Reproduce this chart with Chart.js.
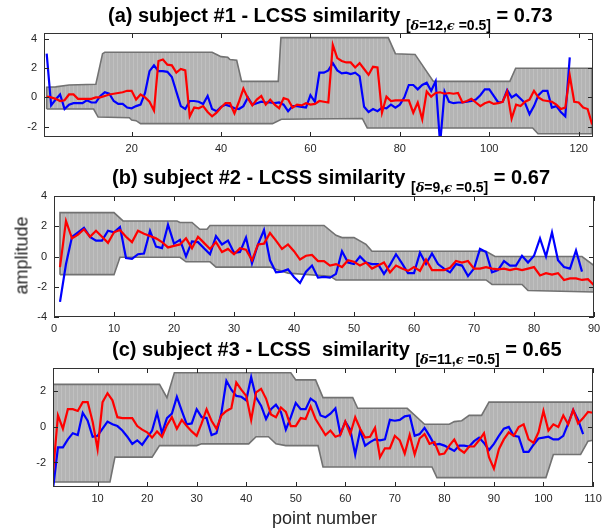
<!DOCTYPE html>
<html>
<head>
<meta charset="utf-8">
<script src="https://cdn.jsdelivr.net/npm/chart.js@4.4.1/dist/chart.umd.min.js"></script>
<style>
  body { margin: 0; background: #fff; width: 607px; height: 529px; overflow: hidden; position: relative; font-family: "Liberation Sans", Arial, sans-serif; }
  canvas { position: absolute; left: 0; }
  .ttl { position: absolute; font-weight: bold; font-size: 20px; color: #000; white-space: nowrap; }
  .ttl .sb { font-size: 14px; position: relative; top: 8px; }
  .ttl i { font-family: "DejaVu Serif", serif; font-size: 13px; }
  .lbl { position: absolute; font-size: 18px; color: #262626; white-space: nowrap; }
</style>
</head>
<body>
<canvas id="chartA" width="607" height="160" style="top:0px"></canvas>
<canvas id="chartB" width="607" height="175" style="top:160px"></canvas>
<canvas id="chartC" width="607" height="194" style="top:335px"></canvas>

<div class="ttl" style="left:108px; top:4px">(a) subject #1 - LCSS similarity <span class="sb">[<i>δ</i>=12,<i>ϵ</i> =0.5]</span> = 0.73</div>
<div class="ttl" style="left:112px; top:166px">(b) subject #2 - LCSS similarity <span class="sb">[<i>δ</i>=9,<i>ϵ</i> =0.5]</span> = 0.67</div>
<div class="ttl" style="left:112px; top:338px">(c) subject #3 - LCSS&nbsp; similarity <span class="sb">[<i>δ</i>=11,<i>ϵ</i> =0.5]</span> = 0.65</div>
<div class="lbl" style="left:-20px; top:245px; transform: rotate(-90deg); transform-origin: 50% 50%; width:84px; text-align:center">amplitude</div>
<div class="lbl" style="left:272px; top:508px; width:100px; text-align:center">point number</div>

<script>
// subject #1
const redA = [0.05, 0.0, -0.1, -0.25, -0.2, 0.2, 0.2, -0.1, -0.1, -0.1,
  -0.1, 0.0, 0.0, 0.1, 0.2, 0.25, 0.3, 0.35, 0.45, 0.45,
  -0.15, 0.2, 0.0, -0.3, -0.9, 2.5, 2.6, 2.25, 2.2, 1.7,
  1.95, 1.85, -1.3, -0.7, -0.75, -0.6, -1.0, -1.3, -1.05, -0.7,
  -0.4, -0.4, -1.1, -0.3, 0.6, -0.05, -0.55, -0.15, 0.1, -0.5,
  -0.15, -0.5, -0.75, -0.05, -0.15, -0.7, -0.5, -0.55, -0.4, -0.5,
  -0.45, -0.25, -0.3, -0.35, 3.6, 2.7, 2.5, 2.4, 2.4, 2.05,
  2.35, 1.95, 1.55, 2.1, 2.05, -1.05, 0.05, -0.25, -0.2, -0.2,
  -0.2, -0.2, -1.05, -0.35, -1.5, 0.4, 0.05, 0.3, 0.35, 0.25,
  0.3, 0.25, 0.3, -0.35, -0.25, -0.1, -0.35, -0.6, -0.4, -0.3,
  -0.45, -0.4, -0.3, 0.4, -1.45, -0.5, -0.6, -0.3, -0.15, 0.45,
  0.0, -0.2, -0.25, -0.3, -0.5, -0.8, -0.7, 1.5, -0.3, -0.35,
  -0.7, -0.8, -1.85];
const blueA = [3.0, -0.55, -0.15, 0.2, -0.8, -0.5, -0.4, -0.4, -0.4, -0.2,
  -0.35, -0.35, 0.1, 0.35, 0.25, -0.25, -0.45, -0.45, -0.7, -0.75,
  -0.6, -0.5, 0.3, 1.8, 2.2, 1.8, 1.8, 1.75, 1.4, 0.4,
  -0.6, -0.8, -0.25, -0.25, -0.3, -0.45, 0.1, -0.8, -0.95, -0.65,
  -0.5, -0.6, -0.75, -0.8, -0.6, 0.0, -0.5, -0.4, -0.3, -0.35,
  -0.35, -0.4, -0.35, -0.5, -0.95, -0.6, -0.6, -0.65, -0.7, 0.15,
  -0.3, 1.7, 1.7, 1.85, 2.35, 1.85, 1.65, 1.7, 1.6, 1.7,
  1.45, -0.65, -1.0, -0.8, -0.95, -0.7, -0.75, -0.5, -0.7, -0.5,
  0.0, 0.85, 0.85, 0.55, 0.85, 1.0, 0.45, 1.1, -3.2, 0.4,
  -0.3, -0.4, -0.35, -0.35, -0.3, -0.25, -0.15, 0.15, 0.55, 0.55,
  0.1, -0.35, -0.3, 0.5, 0.0, 0.2, -0.1, -0.4, -1.15, -0.6,
  0.15, 0.45, 0.45, -0.7, -0.6, -1.0, -1.3, 2.75];
const bandUpA = [[1, 0.7], [3, 0.72], [6, 0.85], [12, 0.9], [13.5, 3.0], [14, 3.1], [38, 3.1], [39, 2.95],
  [40, 2.8], [41.5, 2.75], [42, 2.6], [43.5, 2.55], [44.6, 1.1], [52.8, 1.1], [53.4, 4.1], [77.4, 4.1],
  [79, 3.0], [83.4, 2.95], [87.5, 1.1], [104.6, 1.1], [105.9, 2.0], [123, 2.0]];
const bandLoA = [[1, -0.8], [11.5, -0.8], [12.5, -1.35], [19.5, -1.4], [20, -1.55], [21, -1.6], [22, -1.8],
  [51.5, -1.8], [53.5, -1.5], [71.6, -1.45], [72.7, -2.1], [109.7, -2.1], [110.9, -2.5], [123, -2.5]];
const xTicksA = [20, 40, 60, 80, 100, 120];
const yTicksA = [-2, 0, 2, 4];

// subject #2
const redB = [-0.7, 2.35, 1.2, 1.45, 1.8, 1.3, 1.7, 1.3, 0.9, 1.6,
  1.75, 1.3, 0.95, 1.7, 1.5, 1.35, 1.2, 0.95, 0.6, 0.7,
  0.8, 1.2, 0.55, 1.3, 0.9, 0.5, 0.95, 0.3, 0.5, 0.15,
  0.55, 0.45, -0.25, 0.8, 0.85, 1.55, 1.05, 0.5, 0.8, 0.35,
  -0.2, 0.05, 0.1, -0.3, -0.3, -0.6, -0.5, -0.7, -0.25, -0.35,
  -0.6, -0.4, -0.8, -0.6, -0.4, -1.05, -0.6, -0.8, -0.95, -0.7,
  -0.95, -0.2, -0.9, -0.9, -0.9, -0.75, -0.3, -0.4, -0.3, -0.8,
  -0.8, -0.7, -0.8, -0.85, -0.8, -0.9, -0.8, -0.9, -0.8, -0.7,
  -1.25, -1.1, -1.2, -1.1, -1.55, -1.45, -1.45, -1.55, -1.5, -1.9];
const blueB = [-3.0, -0.5, 1.3, 1.6, 1.9, 1.3, 1.05, 1.05, 1.7, 1.6,
  1.95, -0.1, -0.15, 0.15, 0.2, 1.7, 0.65, 0.55, 2.1, 0.85,
  1.1, 0.0, 1.0, 0.95, 0.55, 0.15, 1.35, 0.8, 1.05, 0.25,
  0.3, 1.25, -0.45, 0.8, 1.75, -0.25, -1.05, -1.0, -0.85, -1.35,
  -1.75, -1.0, -0.6, -1.4, -1.35, -1.4, -1.15, 0.35, -0.4, -0.5,
  0.0, -0.4, -0.5, -0.5, -1.15, -0.55, 0.15, -0.45, -1.1, -1.1,
  0.25, -0.5, 0.2, -0.5, -0.8, -1.05, -0.5, -0.6, -1.3, -0.8,
  0.5, 0.3, -1.05, -0.9, -0.3, -0.6, -0.6, 0.05, -0.4, 0.05,
  1.2, 0.0, 1.6, -0.25, -0.7, -0.8, 0.4, -1.0];
const bandUpB = [[1, 2.9], [10, 2.9], [11.5, 2.35], [20.5, 2.35], [21, 2.25], [23, 2.25], [24.3, 1.8],
  [25.5, 1.8], [26, 2.05], [45, 2.05], [47, 1.4], [48, 1.25], [50, 1.25], [52, 0.8], [53, 0.35],
  [72, 0.35], [73.5, 0.0], [88, 0.0], [90, -0.6]];
const bandLoB = [[1, -1.2], [10, -1.2], [11, -0.05], [21, -0.05], [22, -0.35], [26, -0.35], [27, -0.7],
  [36, -0.7], [37, -0.85], [39, -1.1], [46, -1.3], [47, -1.55], [72, -1.55], [73, -1.85], [78, -1.85],
  [79, -2.25], [90, -2.35]];
const xTicksB = [0, 10, 20, 30, 40, 50, 60, 70, 80, 90];
const yTicksB = [-4, -2, 0, 2, 4];

// subject #3
const redC = [-2.6, 0.65, -0.1, 1.0, 1.0, 0.9, 1.4, 1.4, 0.3, -1.25,
  1.4, 1.9, 1.5, 0.55, 0.5, 0.5, 0.5, 0.05, -0.15, -0.3,
  -0.6, -0.25, -0.55, 0.1, 0.55, -0.1, 0.4, 0.05, -0.25, -0.5,
  0.2, 1.0, 0.35, -0.1, 0.65, 0.9, 1.05, 2.5, 2.1, 1.75,
  0.4, 1.95, 2.15, 1.6, 0.7, 0.55, 1.1, 0.85, 0.05, 0.05,
  0.5, 0.45, 1.15, 0.45, 0.0, -0.45, -0.2, -0.55, -0.45, 0.3,
  -0.4, 0.55, -0.1, -0.6, -0.55, -0.05, -1.7, -1.2, -1.2, -0.5,
  -0.75, -1.5, -0.45, -1.55, -0.65, -0.4, -0.95, -0.85, -1.55, -1.5,
  -1.05, -0.7, -1.25, -1.45, -1.1, -1.1, -0.75, -0.35, -1.7, -2.35,
  -1.25, -0.7, -0.3, -0.5, 0.0, 0.15, -0.7, -0.9, -0.3, 0.9,
  -0.2, 0.15, 0.0, 0.65, 0.15, 0.95, 0.2, 0.5, 0.85, 0.8];
const blueC = [-3.5, -1.15, -1.15, -0.7, -0.35, -0.45, 0.8, 0.35, -0.55, -0.5,
  -0.1, 0.3, 0.15, 0.05, -0.2, -0.55, -0.95, -0.75, -1.0, -0.6,
  -0.2, 0.8, -0.35, 0.5, 0.75, 1.7, 0.9, 0.15, 0.2, 1.0,
  0.55, 0.5, -0.45, -0.35, 0.8, 2.6, 2.1, 1.75, 1.7, 1.5,
  2.8, 1.65, 1.2, 0.45, 1.0, 1.25, 0.85, -0.15, 0.55, 1.35,
  1.0, 1.0, 1.6, 1.4, 0.65, 0.55, 0.75, 1.05, -0.4, 0.3,
  -0.15, -1.55, -0.2, -1.05, -0.85, -0.7, -0.75, -0.7, 0.4, 0.35,
  0.4, 0.6, 0.65, -0.5, -0.4, -0.05, -0.5, -1.0, -0.95, -1.05,
  -1.2, -1.35, -1.05, -1.05, -1.1, -0.8, -0.6, -0.9, -1.3, -0.95,
  -0.5, -0.1, 0.0, -0.5, -0.55, -1.4, -1.4, -1.0, -0.65, -0.6,
  -0.55, -0.7, -0.7, -0.5, 0.2, 0.95, 0.4, -0.4];
const bandUpC = [[1, 2.4], [22.5, 2.4], [24, 1.65], [25.5, 3.05], [49, 3.05], [50, 2.65], [54, 2.65],
  [55.5, 1.65], [61.5, 1.65], [62.5, 1.05], [72.5, 1.05], [76, 0.15], [81, 0.15], [82, 0.3], [83.5, 0.35],
  [85, 0.65], [87.5, 0.65], [89, 1.4], [110, 1.4]];
const bandLoC = [[1, -3.1], [12.5, -3.1], [13.5, -1.7], [21, -1.7], [22.5, -1.05], [30, -1.05], [31, -0.95],
  [40.5, -0.95], [42, -0.55], [44.5, -0.55], [46, -0.95], [48, -1.05], [54.5, -1.05], [55.5, -2.25],
  [77.5, -2.25], [78.5, -2.85], [100.5, -2.85], [102, -1.55], [107.5, -1.55], [109, -0.8], [110, -0.75]];
const xTicksC = [10, 20, 30, 40, 50, 60, 70, 80, 90, 100, 110];
const yTicksC = [-2, 0, 2];

function stripes(ctx) {
  const c = document.createElement('canvas');
  c.width = 4; c.height = 1;
  const g = c.getContext('2d');
  g.fillStyle = '#b4b4b4';
  g.fillRect(0, 0, 4, 1);
  g.fillStyle = '#c0c0c0';
  g.fillRect(1, 0, 1, 1);
  return ctx.createPattern(c, 'repeat');
}

// matlab style box with ticks inside on all four sides
const boxPlugin = {
  id: 'box',
  afterDatasetsDraw(chart) {
    const { ctx, chartArea: a, scales: { x, y } } = chart;
    ctx.save();
    ctx.strokeStyle = '#262626';
    ctx.lineWidth = 1;
    ctx.beginPath();
    x.ticks.forEach(t => {
      const px = Math.round(x.getPixelForValue(t.value)) + 0.5;
      ctx.moveTo(px, a.bottom); ctx.lineTo(px, a.bottom - 5);
      ctx.moveTo(px, a.top); ctx.lineTo(px, a.top + 5);
    });
    y.ticks.forEach(t => {
      const py = Math.round(y.getPixelForValue(t.value)) + 0.5;
      ctx.moveTo(a.left, py); ctx.lineTo(a.left + 5, py);
      ctx.moveTo(a.right, py); ctx.lineTo(a.right - 5, py);
    });
    ctx.stroke();
    ctx.strokeStyle = '#333333';
    ctx.strokeRect(Math.round(a.left) + 0.5, Math.round(a.top) + 0.5,
      Math.round(a.right - a.left) - 1, Math.round(a.bottom - a.top) - 1);
    ctx.restore();
  }
};

function makeChart(id, red, blue, up, lo, xRange, yRange, xTicks, yTicks, yWidth, xHeight, padTop, padRight) {
  const ctx = document.getElementById(id).getContext('2d');
  const pts = arr => arr.map((v, i) => ({ x: i + 1, y: v }));
  const upper = [{ x: up[0][0], y: lo[0][1] }]
    .concat(up.map(p => ({ x: p[0], y: p[1] })))
    .concat([{ x: up[up.length - 1][0], y: lo[lo.length - 1][1] }]);
  const lower = lo.map(p => ({ x: p[0], y: p[1] }));
  const tickFont = { family: 'Liberation Sans', size: 11 };

  return new Chart(ctx, {
    type: 'line',
    data: {
      datasets: [
        { data: pts(red), borderColor: '#ff0000', borderWidth: 2.2, pointRadius: 0, fill: false, order: 0 },
        { data: pts(blue), borderColor: '#0000ff', borderWidth: 2.2, pointRadius: 0, fill: false, order: 1 },
        { data: upper, borderColor: '#727272', borderWidth: 1.6, pointRadius: 0, fill: false, order: 2 },
        { data: lower, borderColor: '#727272', borderWidth: 1.6, pointRadius: 0, fill: 2,
          backgroundColor: stripes(ctx), order: 3 }
      ]
    },
    options: {
      responsive: false,
      animation: false,
      layout: { padding: { top: padTop, right: padRight, left: 0, bottom: 0 } },
      elements: { line: { tension: 0 } },
      plugins: { legend: { display: false }, tooltip: { enabled: false } },
      scales: {
        x: {
          type: 'linear', min: xRange[0], max: xRange[1],
          grid: { display: false, drawTicks: false }, border: { display: false },
          afterBuildTicks: s => { s.ticks = xTicks.map(v => ({ value: v })); },
          afterFit: s => { s.height = xHeight; },
          ticks: { padding: 5, color: '#262626', font: tickFont, maxRotation: 0, autoSkip: false }
        },
        y: {
          type: 'linear', min: yRange[0], max: yRange[1],
          grid: { display: false, drawTicks: false }, border: { display: false },
          afterBuildTicks: s => { s.ticks = yTicks.map(v => ({ value: v })); },
          afterFit: s => { s.width = yWidth; },
          ticks: { padding: 7, color: '#262626', font: tickFont, autoSkip: false }
        }
      }
    },
    plugins: [boxPlugin]
  });
}

makeChart('chartA', redA, blueA, bandUpA, bandLoA, [0.4, 123.2], [-2.72, 4.42], xTicksA, yTicksA, 44, 23, 33, 14);
makeChart('chartB', redB, blueB, bandUpB, bandLoB, [0, 90], [-4, 4], xTicksB, yTicksB, 54, 18, 36, 13);
makeChart('chartC', redC, blueC, bandUpC, bandLoC, [1, 110], [-3.38, 3.32], xTicksC, yTicksC, 53, 42, 33, 14);
</script>
</body>
</html>
